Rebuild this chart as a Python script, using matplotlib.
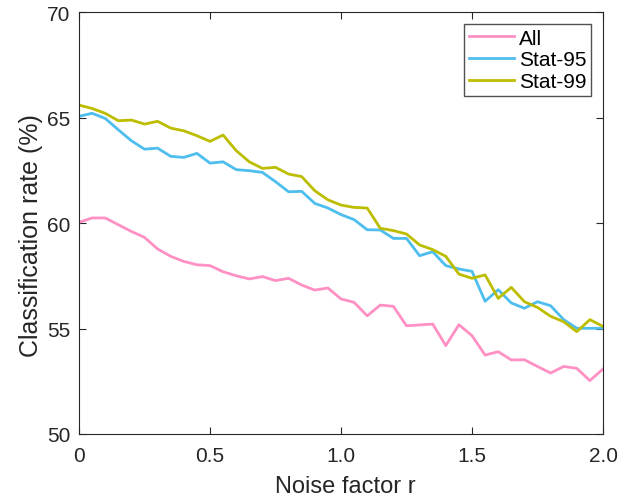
import numpy as np
import matplotlib.pyplot as plt

plt.rcParams['font.family'] = ['Liberation Sans', 'DejaVu Sans']

noise_r = np.round(np.arange(0, 2.0001, 0.05), 2)

rate_all = [60.03, 60.24, 60.24, 59.92, 59.60, 59.32, 58.77, 58.42, 58.18, 58.02,
            57.98, 57.69, 57.50, 57.35, 57.46, 57.27, 57.38, 57.06, 56.82, 56.92,
            56.40, 56.24, 55.60, 56.11, 56.05, 55.13, 55.17, 55.21, 54.19, 55.18,
            54.66, 53.74, 53.90, 53.51, 53.52, 53.20, 52.89, 53.20, 53.11, 52.53,
            53.08]

rate_stat95 = [65.06, 65.20, 64.96, 64.42, 63.90, 63.50, 63.55, 63.16, 63.11, 63.30,
               62.84, 62.90, 62.53, 62.48, 62.40, 61.96, 61.48, 61.50, 60.93, 60.71,
               60.40, 60.16, 59.68, 59.67, 59.27, 59.27, 58.45, 58.64, 57.98, 57.82,
               57.71, 56.29, 56.84, 56.21, 55.96, 56.27, 56.08, 55.42, 55.01, 55.01,
               55.01]

rate_stat99 = [65.59, 65.43, 65.20, 64.85, 64.88, 64.69, 64.82, 64.50, 64.37, 64.14,
               63.87, 64.17, 63.43, 62.90, 62.59, 62.64, 62.32, 62.20, 61.53, 61.10,
               60.85, 60.74, 60.71, 59.75, 59.64, 59.48, 58.96, 58.74, 58.42, 57.58,
               57.38, 57.54, 56.43, 56.95, 56.27, 56.00, 55.58, 55.32, 54.85, 55.42,
               55.10]

fig = plt.figure(figsize=(6.25, 5.02), dpi=100)
ax = fig.add_axes([0.1264, 0.1335, 0.8384, 0.8405])

ax.plot(noise_r, rate_all, color='#FF90C4', lw=2, label='All')
ax.plot(noise_r, rate_stat95, color='#4DBEEE', lw=2, label='Stat-95')
ax.plot(noise_r, rate_stat99, color='#BDBD00', lw=2, label='Stat-99')

ax.set_xlim(0, 2.0)
ax.set_ylim(50, 70)
ax.set_xticks([0, 0.5, 1.0, 1.5, 2.0])
ax.set_xticklabels(['0', '0.5', '1.0', '1.5', '2.0'])
ax.set_yticks([50, 55, 60, 65, 70])
ax.tick_params(direction='in', top=True, right=True, labelsize=15,
               length=5, width=0.8, color='#262626', labelcolor='#262626')
ax.tick_params(axis='x', pad=9)
ax.tick_params(axis='y', pad=6)
for s in ax.spines.values():
    s.set_color('#262626')
    s.set_linewidth(0.8)

ax.set_xlabel('Noise factor r', fontsize=17, color='#262626')
ax.set_ylabel('Classification rate (%)', fontsize=18, color='#262626')
ax.xaxis.set_label_coords(0.508, -0.098)
ax.yaxis.set_label_coords(-0.069, 0.4716)

leg = ax.legend(loc='upper right', fontsize=15, frameon=True, fancybox=False,
                edgecolor='#262626', handlelength=2.16, handletextpad=0.24,
                borderpad=0.22, labelspacing=0.13, borderaxespad=0.58)
leg.get_frame().set_linewidth(1.0)

fig.savefig('out.png', dpi=100)
